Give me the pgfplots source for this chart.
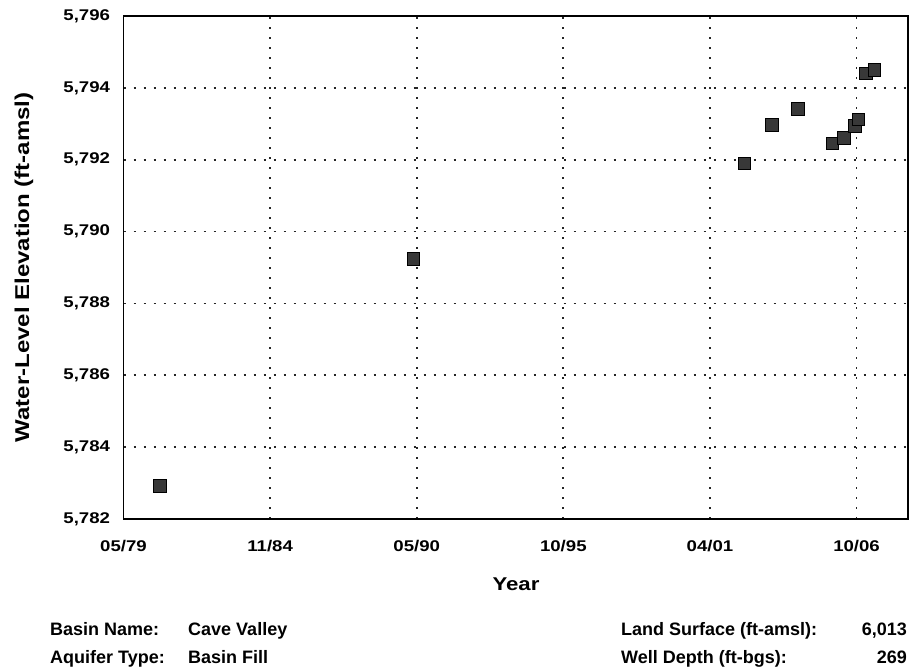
\documentclass[border=0pt]{standalone}
\usepackage{pgfplots}
\pgfplotsset{compat=1.18}
\usepackage{fontspec}
\setmainfont{Liberation Sans}
\newfontfamily\chartfont{Liberation Sans}[FakeStretch=1.2]
\begin{document}
\begin{tikzpicture}[x=1pt,y=1pt]
\path[use as bounding box] (0,0) rectangle (909,671);
\begin{axis}[
  at={(123.5pt,152pt)}, anchor=south west,
  scale only axis, width=784.5pt, height=503pt,
  xmin=0, xmax=5.351, ymin=5782, ymax=5796,
  xtick={0,1,2,3,4,5},
  xticklabels={05/79,11/84,05/90,10/95,04/01,10/06},
  ytick={5782,5784,5786,5788,5790,5792,5794,5796},
  grid=major,
  major grid style={black!85, line width=1.7pt, dash pattern=on 2.2pt off 7.8pt},
  axis line style={black, line width=1.6pt},
  major tick length=0pt,
  /pgf/number format/assume math mode=true,
  /pgf/number format/1000 sep={,},
  ticklabel style={font=\chartfont\bfseries\fontsize{15.5}{18}\selectfont},
  yticklabel style={xshift=-10pt},
  xticklabel style={yshift=-18pt},
]
\addplot[only marks, mark=square*, mark size=6.3pt,
  mark options={fill=black!78, draw=black, line width=0.6pt}]
coordinates {
(0.249,5782.92)
(1.977,5789.24)
(4.233,5791.90)
(4.422,5792.97)
(4.601,5793.41)
(4.835,5792.46)
(4.915,5792.61)
(4.990,5792.94)
(5.012,5793.13)
(5.063,5794.40)
(5.121,5794.50)
};
\end{axis}
\node[font=\chartfont\bfseries\fontsize{20}{24}\selectfont, rotate=90] at (24,403.5) {Water-Level Elevation (ft-amsl)};
\node[font=\chartfont\bfseries\fontsize{18.5}{22}\selectfont, anchor=base] at (516,80) {Year};
\begin{scope}[every node/.style={font=\bfseries\fontsize{18}{21}\selectfont, inner sep=0pt}]
\node[anchor=base west] at (50,35) {Basin Name:};
\node[anchor=base west] at (188,35) {Cave Valley};
\node[anchor=base west] at (50,7.5) {Aquifer Type:};
\node[anchor=base west] at (188,7.5) {Basin Fill};
\node[anchor=base west] at (621,35) {Land Surface (ft-amsl):};
\node[anchor=base east] at (907,35) {6,013};
\node[anchor=base west] at (621,7.5) {Well Depth (ft-bgs):};
\node[anchor=base east] at (907,7.5) {269};
\end{scope}
\end{tikzpicture}
\end{document}
